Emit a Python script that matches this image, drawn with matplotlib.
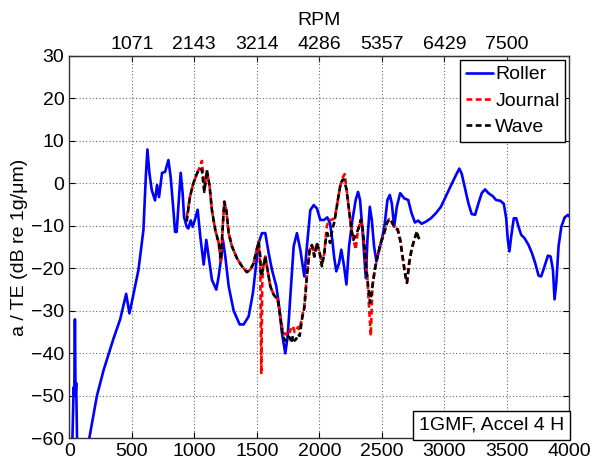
import numpy as np
import matplotlib
matplotlib.use("Agg")
import matplotlib.pyplot as plt

plt.rcParams['font.family'] = ['Liberation Sans', 'DejaVu Sans']
plt.rcParams['font.size'] = 14

# ---- data (Hz vs dB) ----
roller_f = [25, 35, 40, 45, 50, 55, 62, np.nan,
            160, 221, 274, 354, 407, 455, 481, 500, 553, 593, 612, 625, 641, 660, 686, 702, 718,
            742, 766, 793, 811, 833, 846, 859, 878, 891, 907, 918, 939, 952, 971, 987, 1005,
            1027, 1048, 1075, 1096, 1115, 1141, 1176, 1195, 1216, 1229, 1248, 1275, 1315,
            1363, 1395, 1435, 1469, 1496, 1515, 1541, 1568, 1595, 1621, 1656, 1675, 1701,
            1728, 1747, 1768, 1795, 1821, 1848, 1880, 1901, 1928, 1955, 1981, 2008, 2037,
            2064, 2086, 2104, 2118, 2136, 2158, 2176, 2198, 2217, 2238, 2265, 2291, 2310,
            2326, 2345, 2372, 2385, 2404, 2420, 2438, 2457, 2479, 2505, 2524, 2545, 2564,
            2580, 2599, 2620, 2647, 2679, 2711, 2738, 2765, 2791, 2818, 2853, 2893, 2933,
            2973, 3013, 3053, 3094, 3120, 3139, 3166, 3193, 3219, 3246, 3273, 3299, 3326,
            3353, 3388, 3414, 3449, 3476, 3495, 3508, 3521, 3535, 3556, 3575, 3594, 3615,
            3642, 3674, 3701, 3727, 3754, 3775, 3802, 3829, 3850, 3869, 3882, 3896, 3914,
            3936, 3963, 3989, 4000]
roller_db = [-60, -48, -50, -32, -50, -47, -60, np.nan,
             -60, -50, -44, -36.5, -32, -26, -30.6, -28, -20.4, -11, 1.5, 8, 2.4, -1.6, -4, -0.4, -3.2,
             2.5, 2.7, 5.5, 1.5, -6.3, -11.4, -11.4, -3.2, 2.5, -2.4, -7.9, -10.2, -10.6, -8.7, -10.2, -8.5,
             -6.2, -12.5, -19.1, -13.3, -17.2, -22.7, -25, -21.9, -17.2, -13.3, -17.2, -24.2, -30,
             -33.2, -33.2, -31.3, -25.8, -18.7, -14, -11.7, -11.7, -16.4, -20.3, -24.2, -28.1, -35.2,
             -40, -36, -26.6, -14.8, -11.7, -15.6, -21.9, -14.8, -6.3, -5.1, -5.9, -8.6, -8.6,
             -8, -9.4, -13.3, -17.2, -20.7, -18.75, -15.6, -19.5, -23.8, -14.8, -8.6, -3.9, -2,
             -3.9, -10.9, -22.3, -13.3, -5.5, -8.6, -14.8, -18.4, -15.6, -12.5, -9.4, -3.9, -2.7,
             -4.7, -10.2, -5.5, -2.3, -3.5, -3.9, -7, -9.2, -8.75, -9.5, -9, -8.2, -7,
             -5.5, -3, -0.5, 2, 3.5, 2.3, -1.2, -4.7, -7.2, -7.4, -4.7, -2.3, -1.4,
             -2.3, -3, -3.9, -4.1, -4.8, -8.2, -13.3, -16, -12.5, -8.2, -8.2, -10.2, -12.1,
             -12.9, -14.5, -16.4, -18.75, -21.7, -21.9, -19.5, -17, -17.2, -20.3, -27.3, -23.4, -14.8,
             -10.2, -8, -7.4, -7.8]

wave_f = [939, 965, 992, 1021, 1043, 1061, 1080, 1101, 1123, 1141, 1168, 1195, 1213, 1229,
          1240, 1256, 1275, 1301, 1341, 1381, 1421, 1448, 1475, 1496, 1515, 1528, 1533, 1549,
          1568, 1581, 1608, 1635, 1667, 1688, 1709, 1722, 1736, 1750, 1763, 1776, 1789, 1803,
          1816, 1830, 1843, 1861, 1880, 1901, 1923, 1941, 1960, 1981, 2003, 2021, 2040, 2051,
          2064, 2086, 2104, 2123, 2144, 2166, 2184, 2198, 2219, 2238, 2257, 2273, 2299, 2318,
          2332, 2345, 2364, 2385, 2406, 2425, 2444, 2465, 2492, 2519, 2540, 2559, 2578, 2599,
          2626, 2647, 2666, 2685, 2701, 2719, 2738, 2759, 2781, 2791, 2802]
wave_db = [-9, -3.2, 0, 2.3, 3.5, 3.1, -2, 3.1, -0.8, -6.3, -11, -14, -18, -9.4,
           -4.3, -6.3, -11.7, -14.8, -17.6, -19.5, -20.9, -20.3, -18.75, -16, -13.7, -17.2, -21.9, -20.3,
           -17.2, -19.5, -24.2, -26.2, -27.3, -31.25, -35.9, -36.8, -37.1, -36, -36.3, -37.5, -35.9, -37,
           -36.6, -35.5, -35.9, -32, -29.3, -21.9, -15.6, -14.5, -17.2, -14, -16.4, -19.5, -16.4, -13.3,
           -11.7, -14, -10.9, -8.75, -4.7, -0.8, 0.8, 0.9, -1.6, -6.3, -10.9, -13.3, -11.7, -10.2,
           -8.6, -10.2, -15.6, -22.7, -28.1, -24.2, -20.3, -17.2, -14, -11.7, -9.4, -8.4, -9, -10.2,
           -10.9, -13.3, -17.2, -21.1, -23.4, -18.75, -15.6, -13.3, -11.3, -12.5, -13.3]

journal_f = [939, 965, 992, 1021, 1043, 1061, 1080, 1101, 1123, 1141, 1168, 1195, 1213, 1229,
             1240, 1256, 1275, 1301, 1341, 1381, 1421, 1448, 1475, 1496, 1515, 1528, 1536, 1544,
             1555, 1568, 1581, 1608, 1635, 1667, 1688, 1709, 1722, 1736, 1750, 1763, 1776, 1789,
             1803, 1816, 1830, 1843, 1861, 1880, 1901, 1923, 1941, 1960, 1981, 2003, 2021, 2040,
             2060, 2080, 2104, 2123, 2144, 2166, 2184, 2203, 2219, 2238, 2257, 2275, 2291, 2305,
             2318, 2332, 2345, 2364, 2385, 2400, 2412, 2425, 2444, 2465, 2492, 2519, 2540, 2559,
             2578, 2599, 2626, 2647, 2666, 2685, 2701, 2719, 2738, 2759, 2786]
journal_db = [-8, -3.2, 0, 2.3, 3.8, 5.3, -1.5, 3.1, -0.8, -6.3, -11, -14, -18.75, -9.4,
              -4.3, -6.3, -11.7, -14.8, -17.6, -19.5, -20.9, -20.3, -18.75, -16, -13.7, -20.3, -44.9, -22.6,
              -18.5, -17.2, -19.5, -24.2, -26.2, -27.3, -31.25, -35, -35.5, -35.5, -34.5, -35, -34, -33.6,
              -35, -34.5, -33.8, -34.5, -31.5, -29, -21.5, -15.6, -14.5, -17.2, -14, -16.4, -19, -16.4,
              -10, -8.6, -8.5, -8.2, -4.7, -0.8, 1.2, 2.2, -1.6, -6.3, -10.9, -13.3, -15.6, -12,
              -10.2, -8.6, -10.2, -15.6, -22.7, -30, -35.9, -24.2, -20.3, -17.2, -14, -11.7, -9.4, -8.4,
              -9, -10.2, -10.5, -13.3, -17.2, -21.1, -23.4, -18.75, -15.6, -13.3, -11]

xticks = [0, 500, 1000, 1500, 2000, 2500, 3000, 3500, 4000]
yticks = [-60, -50, -40, -30, -20, -10, 0, 10, 20, 30]
top_ticks = [500, 1000, 1500, 2000, 2500, 3000, 3500]
top_labels = ['1071', '2143', '3214', '4286', '5357', '6429', '7500']

fig = plt.figure(figsize=(6.02, 4.67), dpi=100)
ax = fig.add_axes([0.1151, 0.0615, 0.8306, 0.8186])

ax.plot(roller_f, roller_db, color='#0000ff', lw=1.9, label='Roller',
        solid_joinstyle='round', solid_capstyle='round')
ax.plot(journal_f, journal_db, color='#ff0000', lw=1.9, ls=(0, (2.2, 1.3)), label='Journal')
ax.plot(wave_f, wave_db, color='black', lw=1.9, ls=(0, (2.2, 1.3)), label='Wave')

ax.set_xlim(0, 4000)
ax.set_ylim(-60, 30)
ax.set_xticks(xticks)
ax.set_yticks(yticks)
ax.grid(True, color='#666666', ls=(0, (1, 2)), lw=0.8)
ax.tick_params(direction='in', length=4, width=0.8, labelsize=14)
ax.set_ylabel('a / TE (dB re 1g/μm)', fontsize=14, labelpad=2)
for s in ax.spines.values():
    s.set_linewidth(1.0)
    s.set_color('#333333')

top = ax.secondary_xaxis('top')
top.set_xticks(top_ticks)
top.set_xticklabels(top_labels)
top.tick_params(direction='in', length=4, width=0.8, labelsize=14, pad=2)
top.set_xlabel('RPM', fontsize=14, labelpad=8)

ax.tick_params(top=False, right=True)

leg = ax.legend(loc='upper right', fontsize=14, handlelength=1.4, handletextpad=0.1,
                borderaxespad=0.2, labelspacing=0.45, borderpad=0.3, fancybox=False,
                framealpha=1, edgecolor='black')
leg.get_frame().set_linewidth(1.0)

ax.text(0.99, 0.012, '1GMF, Accel 4 H', transform=ax.transAxes, ha='right', va='bottom',
        fontsize=14, bbox=dict(boxstyle='square,pad=0.3', fc='white', ec='black', lw=1.0))

fig.savefig('out.png', dpi=100)
